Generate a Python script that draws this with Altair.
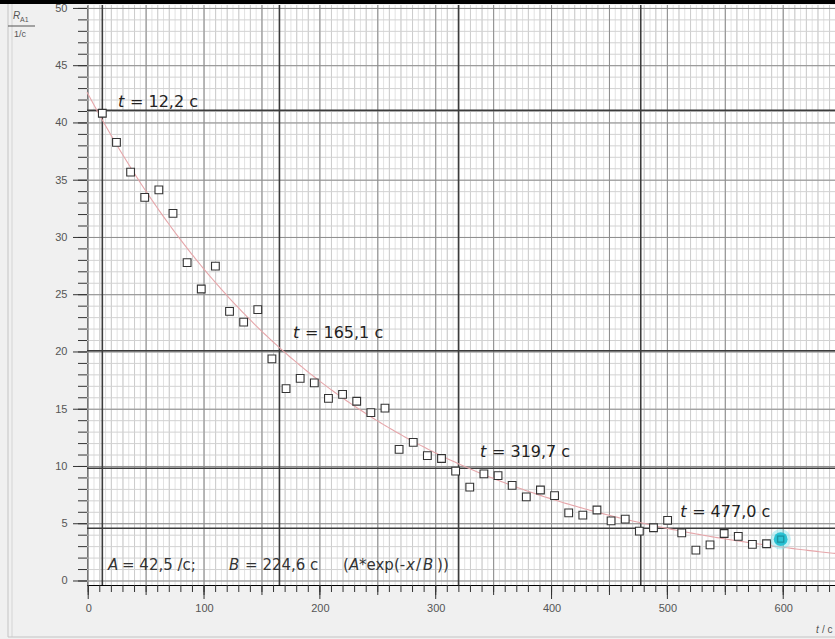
import altair as alt
import pandas as pd
import numpy as np

# ---------------- data ----------------
t_vals = [12.2, 24.4, 36.6, 48.8, 61.0, 73.2, 85.4, 97.6, 109.8, 122.0,
          134.2, 146.4, 158.6, 170.8, 183.0, 195.2, 207.4, 219.6, 231.8, 244.0,
          256.2, 268.4, 280.6, 292.8, 305.0, 317.2, 329.4, 341.6, 353.8, 366.0,
          378.2, 390.4, 402.6, 414.8, 427.0, 439.2, 451.4, 463.6, 475.8, 488.0,
          500.2, 512.4, 524.6, 536.8, 549.0, 561.2, 573.4, 585.6, 597.8]
r_vals = [40.85, 38.3, 35.7, 33.5, 34.15, 32.1, 27.8, 25.5, 27.5, 23.55,
          22.6, 23.7, 19.4, 16.8, 17.7, 17.3, 15.95, 16.3, 15.7, 14.7,
          15.1, 11.5, 12.1, 10.95, 10.7, 9.6, 8.2, 9.35, 9.2, 8.35,
          7.35, 7.95, 7.45, 5.95, 5.75, 6.2, 5.25, 5.4, 4.35, 4.65,
          5.3, 4.2, 2.7, 3.15, 4.15, 3.9, 3.2, 3.25, 3.65]

A_fit = 42.5
B_fit = 224.6

marker_t = [12.2, 165.1, 319.7, 477.0]
marker_r = [41.1, 20.1, 9.85, 4.6]
marker_text = ["= 12,2 c", "= 165,1 c", "= 319,7 c", "= 477,0 c"]
label_t = [25.7, 176.8, 338.2, 511.0]
label_r = [41.86, 21.63, 11.29, 6.05]

formula_text = ["A", "= 42,5 /c;", "B", "= 224,6 c", "(", "A", "*exp(-", "x", "/", "B", "))"]
formula_italic = [True, False, True, False, False, True, False, True, False, True, False]
formula_t = [17.1, 29.2, 121.5, 135.4, 220.0, 225.2, 233.8, 274.4, 283.0, 289.1, 301.2]
formula_r = 1.40

x_labels = [0, 100, 200, 300, 400, 500, 600]
y_labels = [0, 5, 10, 15, 20, 25, 30, 35, 40, 45, 50]

# ---------------- frames ----------------
pts = pd.DataFrame({"t": t_vals, "r": r_vals})
last = pts.tail(1)
curve = pd.DataFrame({"t": np.arange(-1.0, 646.0, 2.0)})
mk = pd.DataFrame({"t": marker_t, "r": marker_r, "txt": marker_text,
                   "lt": label_t, "lr": label_r})
frm = pd.DataFrame({"txt": formula_text, "it": formula_italic, "t": formula_t})
frm["r"] = formula_r
one = pd.DataFrame({"a": [0]})

W, H = 748, 580
xscale = alt.Scale(domain=[-1.04, 644.7], nice=False, zero=False)
yscale = alt.Scale(domain=[-0.35, 50.3], nice=False, zero=False)
xaxis = alt.Axis(values=x_labels, ticks=False, grid=False, domainColor="black",
                 labelColor="#555", labelFont="Liberation Sans", labelFontSize=11,
                 labelPadding=17, title=None, labelFlush=False)
yaxis = alt.Axis(values=y_labels, ticks=False, grid=False, domainColor="black",
                 labelColor="#555", labelFont="Liberation Sans", labelFontSize=11,
                 labelPadding=20, title=None)


def X(f):
    return alt.X(f, type="quantitative", scale=xscale, axis=xaxis, title=None)


def Y(f):
    return alt.Y(f, type="quantitative", scale=yscale, axis=yaxis, title=None)


def vgrid(vals, color, width=1.0):
    return alt.Chart(pd.DataFrame({"g": vals})).mark_rule(
        color=color, strokeWidth=width).encode(x=X("g"))


def hgrid(vals, color, width=1.0):
    return alt.Chart(pd.DataFrame({"g": vals})).mark_rule(
        color=color, strokeWidth=width).encode(y=Y("g"))


layers = [
    vgrid(list(np.arange(0, 645, 5)), "#e2e2e2"),
    vgrid(list(np.arange(0, 645, 10)), "#cdcdcd"),
    hgrid(list(np.arange(0, 51, 1)), "#d2d2d2"),
    vgrid(list(np.arange(0, 645, 50)), "#8e8e8e"),
    hgrid(list(np.arange(0, 51, 5)), "#8e8e8e"),
]

# half-life marker lines
layers.append(alt.Chart(mk).mark_rule(color="#3c3c3c", strokeWidth=1.6).encode(x=X("t")))
layers.append(alt.Chart(mk).mark_rule(color="#3c3c3c", strokeWidth=1.6).encode(y=Y("r")))

# fit curve
layers.append(
    alt.Chart(curve).transform_calculate(
        r=f"{A_fit}*exp(-datum.t/{B_fit})"
    ).mark_line(color="#e6a6aa", strokeWidth=1.1).encode(x=X("t"), y=Y("r"))
)

# measured points
layers.append(
    alt.Chart(pts).mark_point(shape="square", size=60, filled=True, fill="white",
                              stroke="#333333", strokeWidth=1.1, opacity=1)
    .encode(x=X("t"), y=Y("r"))
)

# highlighted last point
layers.append(alt.Chart(last).mark_circle(size=420, color="#7fe3ec", opacity=0.45)
              .encode(x=X("t"), y=Y("r")))
layers.append(alt.Chart(last).mark_circle(size=190, color="#22c0d2", opacity=0.95)
              .encode(x=X("t"), y=Y("r")))
layers.append(alt.Chart(last).mark_point(shape="square", size=36, filled=False,
                                         color="#157f8c", strokeWidth=1.2)
              .encode(x=X("t"), y=Y("r")))

# marker labels
layers.append(alt.Chart(mk).mark_text(text="t", font="DejaVu Sans", fontSize=16,
                                      fontStyle="italic", align="left",
                                      baseline="middle", color="#222")
              .encode(x=X("lt"), y=Y("lr")))
layers.append(alt.Chart(mk).mark_text(font="DejaVu Sans", fontSize=16, dx=12,
                                      align="left", baseline="middle", color="#222")
              .encode(x=X("lt"), y=Y("lr"), text="txt:N"))

# formula
layers.append(alt.Chart(frm).transform_filter("datum.it").mark_text(
    font="DejaVu Sans", fontSize=15, fontStyle="italic", align="left",
    baseline="middle", color="#333").encode(x=X("t"), y=Y("r"), text="txt:N"))
layers.append(alt.Chart(frm).transform_filter("!datum.it").mark_text(
    font="DejaVu Sans", fontSize=15, align="left",
    baseline="middle", color="#333").encode(x=X("t"), y=Y("r"), text="txt:N"))

# axis tick marks (outside the plot)
layers.append(alt.Chart(pd.DataFrame({"g": list(np.arange(0, 645, 10))}))
              .mark_rule(color="#333", strokeWidth=1)
              .encode(x=X("g"), y=alt.value(H), y2=alt.value(H + 7)))
layers.append(alt.Chart(pd.DataFrame({"g": list(np.arange(0, 645, 50))}))
              .mark_rule(color="#333", strokeWidth=1)
              .encode(x=X("g"), y=alt.value(H), y2=alt.value(H + 10)))
layers.append(alt.Chart(pd.DataFrame({"g": list(np.arange(0, 645, 100))}))
              .mark_rule(color="#333", strokeWidth=1)
              .encode(x=X("g"), y=alt.value(H), y2=alt.value(H + 14)))
layers.append(alt.Chart(pd.DataFrame({"g": list(np.arange(0, 51, 1))}))
              .mark_rule(color="#333", strokeWidth=1)
              .encode(y=Y("g"), x=alt.value(-9), x2=alt.value(0)))
layers.append(alt.Chart(pd.DataFrame({"g": list(np.arange(0, 51, 5))}))
              .mark_rule(color="#333", strokeWidth=1)
              .encode(y=Y("g"), x=alt.value(-14), x2=alt.value(0)))

# frame decoration: top black bar, panel borders
layers.append(alt.Chart(one).mark_rule(color="black", strokeWidth=4)
              .encode(x=alt.value(-87), x2=alt.value(W), y=alt.value(-3)))
layers.append(alt.Chart(one).mark_rule(color="#c4c4c4", strokeWidth=1)
              .encode(x=alt.value(-79), y=alt.value(-1), y2=alt.value(632)))
layers.append(alt.Chart(one).mark_rule(color="#d4d4d4", strokeWidth=1)
              .encode(x=alt.value(-75), y=alt.value(-1), y2=alt.value(632)))
layers.append(alt.Chart(one).mark_rule(color="#c4c4c4", strokeWidth=1)
              .encode(x=alt.value(-79), x2=alt.value(W), y=alt.value(632)))

# axis titles
layers.append(alt.Chart(one).mark_text(text="R", font="Liberation Sans", fontSize=10,
                                       fontStyle="italic", align="left",
                                       baseline="middle", color="#555")
              .encode(x=alt.value(-74), y=alt.value(11)))
layers.append(alt.Chart(one).mark_text(text="A1", font="Liberation Sans", fontSize=7,
                                       align="left", baseline="middle", color="#555")
              .encode(x=alt.value(-67), y=alt.value(15)))
layers.append(alt.Chart(one).mark_rule(color="#555", strokeWidth=1)
              .encode(x=alt.value(-79), x2=alt.value(-52), y=alt.value(21)))
layers.append(alt.Chart(one).mark_text(text="1/c", font="Liberation Sans", fontSize=9,
                                       align="left", baseline="middle", color="#555")
              .encode(x=alt.value(-73), y=alt.value(29)))
layers.append(alt.Chart(one).mark_text(text="t", font="Liberation Sans", fontSize=10,
                                       fontStyle="italic", align="left",
                                       baseline="middle", color="#555")
              .encode(x=alt.value(729), y=alt.value(625)))
layers.append(alt.Chart(one).mark_text(text="/ c", font="Liberation Sans", fontSize=10,
                                       align="left", baseline="middle", color="#555")
              .encode(x=alt.value(735), y=alt.value(625)))

chart = alt.layer(*layers).properties(
    width=W, height=H,
    padding={"left": 87, "top": 5, "right": 0, "bottom": 54},
    autosize=alt.AutoSizeParams(type="none"),
    background="#f0f0f0",
).configure_view(stroke=None, fill="white")

chart.save("out.html", embed_options={"renderer": "svg", "actions": False})
